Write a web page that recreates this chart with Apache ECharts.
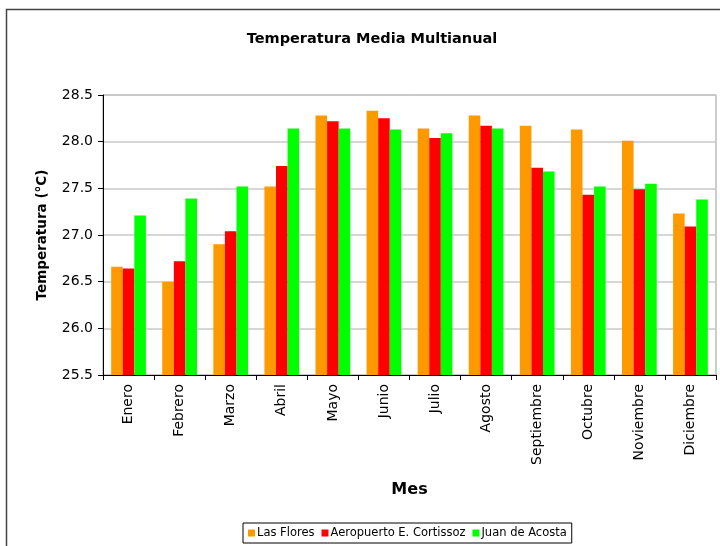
<!DOCTYPE html>
<html><head><meta charset="utf-8">
<script src="https://cdn.jsdelivr.net/npm/echarts@6/dist/echarts.min.js"></script>
<style>html,body{margin:0;padding:0;background:#fff}#c{width:720px;height:546px}</style>
</head><body><div id="c"></div>
<script>
const months = ['Enero','Febrero','Marzo','Abril','Mayo','Junio','Julio','Agosto','Septiembre','Octubre','Noviembre','Diciembre'];
const lasFlores = [26.66,26.50,26.90,27.52,28.28,28.33,28.14,28.28,28.17,28.13,28.01,27.23];
const aeropuerto = [26.64,26.72,27.04,27.74,28.22,28.25,28.04,28.17,27.72,27.43,27.49,27.09];
const juanDeAcosta = [27.21,27.39,27.52,28.14,28.14,28.13,28.09,28.14,27.68,27.52,27.55,27.38];
const seriesNames = ['Las Flores','Aeropuerto E. Cortissoz','Juan de Acosta'];
const colors = ['#FF9900','#FF0000','#00FF00'];

const chart = echarts.init(document.getElementById('c'));
const font = '"DejaVu Sans", sans-serif';
chart.setOption({
  animation:false,
  textStyle:{fontFamily:font},
  title:{text:'Temperatura Media Multianual',left:367,textAlign:'center',top:27,
    textStyle:{fontSize:14.5,fontWeight:'bold',color:'#000',fontFamily:font}},
  graphic:[
    {type:'rect',shape:{x:6.5,y:9.5,width:730,height:560},style:{fill:null,stroke:'#444',lineWidth:1.5},silent:true,z:-1},
    {type:'rect',shape:{x:103,y:95,width:613,height:280},style:{fill:null,stroke:'#999',lineWidth:1},silent:true,z:0}
  ],
  legend:{bottom:3,left:243,data:seriesNames,itemWidth:7,itemHeight:7,itemGap:7,
    icon:'rect',padding:[4,5,4,5],borderColor:'#000',borderWidth:1,
    textStyle:{fontSize:11.5,color:'#000',fontFamily:font,padding:[0,0,0,-3]}},
  grid:{left:103,right:4,top:95,bottom:171,containLabel:false},
  xAxis:{type:'category',data:months,name:'Mes',nameLocation:'middle',nameGap:107,
    nameTextStyle:{fontSize:16,fontWeight:'bold',color:'#000',fontFamily:font},
    axisLine:{lineStyle:{color:'#000',width:1}},
    axisTick:{show:true,alignWithLabel:false,length:5,lineStyle:{color:'#000'}},
    axisLabel:{rotate:90,fontSize:14,color:'#000',margin:9,fontFamily:font}},
  yAxis:{type:'value',min:25.5,max:28.5,interval:0.5,name:'Temperatura (°C)',nameLocation:'middle',nameGap:54,
    nameTextStyle:{fontSize:13.5,fontWeight:'bold',color:'#000',fontFamily:font},
    axisLine:{show:true,lineStyle:{color:'#000'}},
    axisTick:{show:true,length:5,lineStyle:{color:'#000'}},
    axisLabel:{fontSize:14,color:'#000',margin:10,formatter:v=>v.toFixed(1),fontFamily:font},
    splitLine:{lineStyle:{color:'#c8c8c8',width:1.5}}},
  series:[
    {name:seriesNames[0],type:'bar',data:lasFlores,itemStyle:{color:colors[0]},barGap:'0%',barCategoryGap:'32%'},
    {name:seriesNames[1],type:'bar',data:aeropuerto,itemStyle:{color:colors[1]}},
    {name:seriesNames[2],type:'bar',data:juanDeAcosta,itemStyle:{color:colors[2]}}
  ]
});
</script></body></html>
